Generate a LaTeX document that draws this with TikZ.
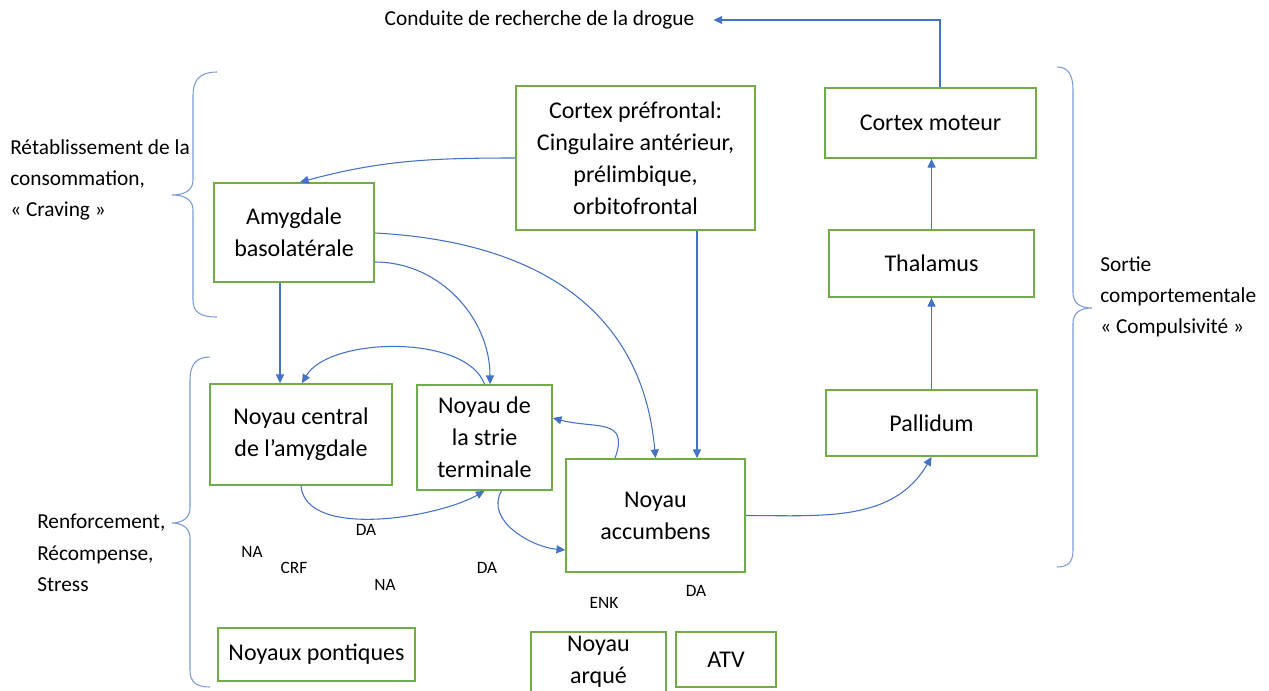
\documentclass[tikz,border=0pt]{standalone}
\usepackage{fontspec}
\setmainfont{Carlito}
\usetikzlibrary{arrows.meta,calc}
\definecolor{boxgreen}{HTML}{70AD47}
\definecolor{arrblue}{HTML}{4472C4}
\tikzset{
  box/.style={draw=boxgreen, line width=1.3pt, align=center, inner sep=0pt,
    font=\fontsize{18}{24}\selectfont},
  sz/.style 2 args={minimum width=#1*0.75pt, minimum height=#2*0.75pt},
  lbl/.style={inner sep=0pt, align=left, font=\fontsize{16}{23.5}\selectfont},
  tiny/.style={inner sep=0pt, font=\fontsize{13}{16}\selectfont},
  arr/.style={draw=arrblue, line width=0.8pt, -{Triangle[length=6.5pt,width=6pt]}},
  brace/.style={draw=arrblue!70, line width=0.8pt}
}
\begin{document}
\begin{tikzpicture}[x=0.75pt,y=0.75pt]
\useasboundingbox (0,0) rectangle (1269,-690);
\clip (0,0) rectangle (1269,-690);
\fill[white] (0,0) rectangle (1269,-690);

% boxes
\node[box, sz={239}{144}] (pfc) at (635.5,-158) {Cortex préfrontal:\\Cingulaire antérieur,\\prélimbique,\\orbitofrontal};
\node[box, sz={211}{70}] (motor) at (930.5,-123) {Cortex moteur};
\node[box, sz={205}{67}] (thal) at (931.5,-263.5) {Thalamus};
\node[box, sz={211}{66}] (pall) at (931.5,-423) {Pallidum};
\node[box, sz={160}{99}] (bla) at (294,-232.5) {Amygdale\\basolatérale};
\node[box, sz={182}{101}] (cea) at (301,-434.5) {Noyau central\\de l’amygdale};
\node[box, sz={135}{105}] (bnst) at (484.5,-437.5) {Noyau de\\la strie\\terminale};
\node[box, sz={179}{113}] (nac) at (655.5,-515.5) {Noyau\\accumbens};
\node[box, sz={197}{53}] (pont) at (316.5,-654.5) {Noyaux pontiques};
\node[box, sz={135}{80}] (arc) at (598.5,-672) {};
\node[inner sep=0pt, align=center, font=\fontsize{18}{24}\selectfont] (arct) at (598.5,-662) {Noyau\\arqué};
\node[box, sz={100}{55}] (atv) at (726,-659.5) {ATV};

% labels
\node[lbl] (title) at (539.5,-20) {Conduite de recherche de la drogue};
\node[lbl, anchor=west] (rl) at (10,-180) {Rétablissement de la\\consommation,\\« Craving »};
\node[lbl, anchor=west] (rr) at (37,-553) {Renforcement,\\Récompense,\\Stress};
\node[lbl, anchor=west] (so) at (1100,-297) {Sortie\\comportementale\\« Compulsivité »};

\node[tiny] (da1) at (366,-530) {DA};
\node[tiny] (na1) at (252,-552) {NA};
\node[tiny] (crf) at (294,-568) {CRF};
\node[tiny] (na2) at (385,-585) {NA};
\node[tiny] (da2) at (487,-568) {DA};
\node[tiny] (enk) at (604,-603) {ENK};
\node[tiny] (da3) at (696,-591) {DA};

% braces
\draw[brace] (217,-72) .. controls (200,-72) and (193,-80) .. (193,-95) -- (193,-180)
  .. controls (193,-190) and (185,-195) .. (172,-195)
  .. controls (185,-195) and (193,-200) .. (193,-210) -- (193,-300)
  .. controls (193,-312) and (200,-317) .. (217,-317);
\draw[brace] (210,-357) .. controls (196,-357) and (190,-365) .. (190,-380) -- (190,-508)
  .. controls (190,-518) and (182,-523) .. (172,-523)
  .. controls (182,-523) and (190,-528) .. (190,-538) -- (190,-670)
  .. controls (190,-682) and (196,-687) .. (210,-687);
\draw[brace] (1057,-67) .. controls (1068,-67) and (1073,-75) .. (1073,-90) -- (1073,-293)
  .. controls (1073,-303) and (1080,-308) .. (1092,-308)
  .. controls (1080,-308) and (1073,-313) .. (1073,-323) -- (1073,-550)
  .. controls (1073,-562) and (1068,-567) .. (1057,-567);

% connectors
\coordinate (m1) at ($(motor.north)+(9.5,0)$);
\coordinate (t1) at ($(title.east)+(19,0)$);
\draw[arr] (m1) |- (t1);
\draw[arr] (thal.north) -- (thal.north |- motor.south);
\draw[arr] (pall.north) -- (pall.north |- thal.south);
\draw[arr] (nac.east) to[out=0,in=240] (pall.south);

\coordinate (p1) at ($(pfc.south)+(61.5,0)$);
\draw[arr] (p1) -- (p1 |- nac.north);
\draw[arr] (pfc.west) to[out=180,in=15] ($(bla.north)+(6,0)$);

\coordinate (b1) at ($(bla.south)+(-14,0)$);
\draw[arr] (b1) -- (b1 |- cea.north);
\draw[arr] ($(bla.east)+(0,-29.5)$) to[out=0,in=90] ($(bnst.north)+(5.5,0)$);
\draw[arr] ($(bla.east)+(0,-0.5)$) to[out=-3,in=95,looseness=1.1] (nac.north);

\draw[arr] (bnst.north) to[out=110,in=60,looseness=0.75] ($(cea.north)+(1,0)$);
\draw[arr] ($(nac.north)+(-40.5,0)$) to[out=70,in=-15,looseness=1.5] ($(bnst.east)+(0,19.5)$);
\draw[arr] (cea.south) to[out=-85,in=-150,looseness=0.75] (bnst.south);
\draw[arr] ($(bnst.south)+(17,0)$) to[out=-120,in=175] ($(nac.west)+(0,-34.5)$);
\end{tikzpicture}
\end{document}
